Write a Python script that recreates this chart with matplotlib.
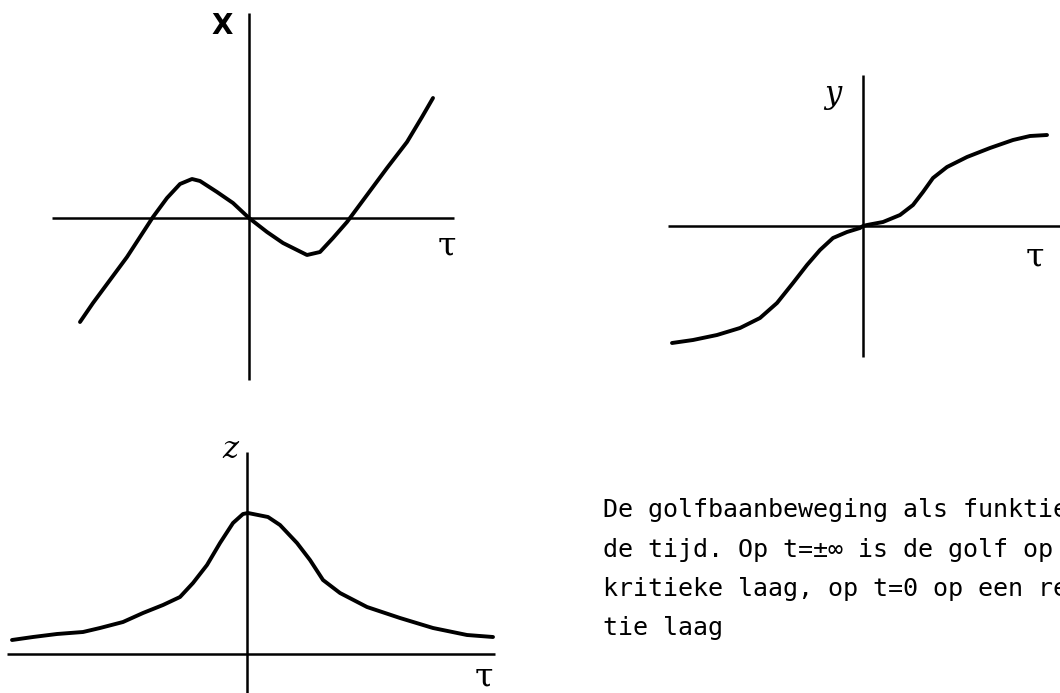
import numpy as np
import matplotlib.pyplot as plt

# x(tau): rises, bumps over, dips below zero, then climbs away
tau_x = [-3.38, -3.12, -2.78, -2.44, -2.18, -1.92, -1.64, -1.38, -1.14, -0.98,
         -0.64, -0.32, 0.0, 0.36, 0.68, 1.16, 1.42, 1.68, 1.96, 2.36, 2.76,
         3.16, 3.46, 3.68]
x_vals = [-2.08, -1.70, -1.24, -0.78, -0.38, 0.02, 0.40, 0.68, 0.78, 0.74,
          0.52, 0.30, 0.0, -0.28, -0.50, -0.74, -0.68, -0.40, -0.08, 0.46, 1.00,
          1.52, 2.02, 2.40]

# y(tau): S-shaped step through the origin
tau_y = [-3.82, -3.40, -2.92, -2.46, -2.06, -1.72, -1.40, -1.12, -0.86, -0.60,
         -0.32, -0.06, 0.0, 0.08, 0.40, 0.74, 1.00, 1.20, 1.40, 1.68, 2.08,
         2.54, 3.00, 3.34, 3.68]
y_vals = [-2.34, -2.28, -2.18, -2.04, -1.84, -1.54, -1.14, -0.78, -0.48, -0.24,
          -0.12, -0.04, 0.0, 0.02, 0.08, 0.22, 0.42, 0.68, 0.96, 1.18, 1.38,
          1.56, 1.72, 1.80, 1.82]

# z(tau): peak at tau = 0, decaying tails on both sides
tau_z = [-4.70, -4.28, -3.80, -3.28, -2.94, -2.48, -2.08, -1.68, -1.34, -1.08,
         -0.80, -0.54, -0.28, -0.08, 0.02, 0.42, 0.66, 1.00, 1.26, 1.52, 1.86,
         2.40, 3.06, 3.72, 4.40, 4.92]
z_vals = [0.28, 0.34, 0.40, 0.44, 0.52, 0.64, 0.82, 0.98, 1.14, 1.42,
          1.78, 2.22, 2.62, 2.80, 2.82, 2.74, 2.58, 2.22, 1.88, 1.48, 1.22,
          0.94, 0.72, 0.52, 0.38, 0.34]

caption = [
    "De golfbaanbeweging als funktie van",
    "de tijd. Op t=±∞ is de golf op een",
    "kritieke laag, op t=0 op een reflek-",
    "tie laag",
]

W, H = 1060, 693
fig = plt.figure(figsize=(W / 100, H / 100), dpi=100)
fig.patch.set_facecolor("white")


def panel(box, origin, scale=50):
    # box and origin in pixels (top-down), scale in px per unit
    x0, y0, x1, y1 = box
    ox, oy = origin
    ax = fig.add_axes([x0 / W, 1 - y1 / H, (x1 - x0) / W, (y1 - y0) / H])
    ax.set_xlim((x0 - ox) / scale, (x1 - ox) / scale)
    ax.set_ylim((oy - y1) / scale, (oy - y0) / scale)
    ax.axis("off")
    return ax


def cross(ax, hx, vy):
    ax.hlines(0, hx[0], hx[1], color="black", lw=1.8, clip_on=False)
    ax.vlines(0, vy[0], vy[1], color="black", lw=1.8, clip_on=False)


def curve(ax, t, v):
    ax.plot(t, v, color="black", lw=2.8, solid_capstyle="round",
            solid_joinstyle="round", clip_on=False)


label_kw = dict(color="black", ha="center", va="center")

ax1 = panel((0, 0, 530, 400), (249, 218))
cross(ax1, (-3.94, 4.1), (-3.24, 4.1))
curve(ax1, tau_x, x_vals)
ax1.text(-0.54, 3.84, "X", fontsize=20, fontweight="bold", family="DejaVu Sans", **label_kw)
ax1.text(3.96, -0.58, "τ", fontsize=24, family="DejaVu Serif", **label_kw)

ax2 = panel((560, 0, 1060, 400), (863, 226))
cross(ax2, (-3.9, 3.94), (-2.62, 3.02))
curve(ax2, tau_y, y_vals)
ax2.text(-0.6, 2.64, "y", fontsize=22, style="italic", family="DejaVu Serif", **label_kw)
ax2.text(3.44, -0.64, "τ", fontsize=24, family="DejaVu Serif", **label_kw)

ax3 = panel((0, 420, 530, 693), (247, 654))
cross(ax3, (-4.8, 4.96), (-0.8, 4.04))
curve(ax3, tau_z, z_vals)
ax3.text(-0.34, 4.08, "z", fontsize=22, style="italic", family="DejaVu Serif", **label_kw)
ax3.text(4.74, -0.48, "τ", fontsize=24, family="DejaVu Serif", **label_kw)

# typed caption, running off the right edge
for i, line in enumerate(caption):
    fig.text(603 / W, 1 - (517 + 39.5 * i) / H, line, family="DejaVu Sans Mono",
             fontsize=18, color="black", ha="left", va="baseline")

fig.savefig("out.png", dpi=100, facecolor="white")
